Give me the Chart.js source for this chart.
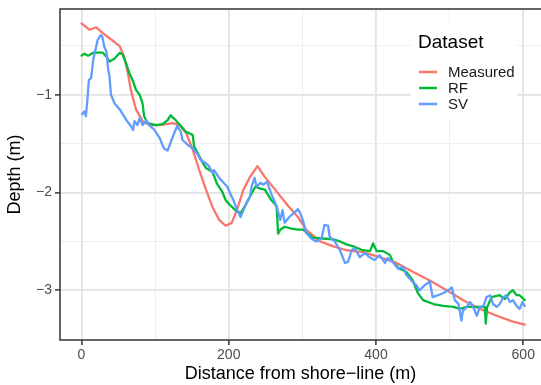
<!DOCTYPE html>
<html>
<head>
<meta charset="utf-8">
<script src="https://cdn.jsdelivr.net/npm/chart.js@4/dist/chart.umd.min.js"></script>
<style>
html,body{margin:0;padding:0;background:#fff;overflow:hidden;}
#wrap{width:541px;height:385px;position:relative;}
</style>
</head>
<body>
<div id="wrap"><canvas id="c" width="541" height="385"></canvas></div>
<script>
// ---- data ----
const seriesNames = ['Measured', 'RF', 'SV'];
const seriesColors = ['#F8766D', '#00BA38', '#619CFF'];

const measuredX = [0,11,20,29,43,52,58,63,67,74,83,92,106,124,133,142,151,160,169,178,187,196,204,211,220,229,239,249,263,281,294,305,324,342,360,382,405,428,450,473,496,518,541,564,586,602];
const measuredY = [-0.27,-0.335,-0.31,-0.37,-0.45,-0.505,-0.61,-0.78,-0.95,-1.15,-1.27,-1.31,-1.31,-1.29,-1.31,-1.39,-1.56,-1.77,-1.97,-2.15,-2.28,-2.34,-2.31,-2.18,-1.97,-1.84,-1.73,-1.84,-1.97,-2.14,-2.25,-2.38,-2.5,-2.55,-2.59,-2.61,-2.66,-2.72,-2.81,-2.90,-3.0,-3.10,-3.19,-3.26,-3.32,-3.35];

const rfX = [0,4,9,16,29,34,38,45,52,56,61,65,70,74,79,83,85,90,101,110,117,121,128,135,142,151,153,160,169,178,184,191,196,202,209,216,222,229,236,243,249,258,265,267,270,276,285,294,301,314,328,342,351,360,369,382,392,396,401,410,419,423,432,441,450,457,464,478,491,505,514,523,537,548,549,551,557,568,575,582,586,591,595,602];
const rfY = [-0.60,-0.58,-0.60,-0.57,-0.57,-0.61,-0.66,-0.63,-0.57,-0.59,-0.69,-0.78,-0.86,-0.95,-1.0,-1.09,-1.22,-1.29,-1.31,-1.30,-1.26,-1.21,-1.26,-1.32,-1.38,-1.41,-1.53,-1.63,-1.75,-1.79,-1.91,-1.99,-2.08,-2.13,-2.18,-2.21,-2.14,-2.04,-1.94,-1.96,-1.97,-2.08,-2.14,-2.42,-2.38,-2.35,-2.37,-2.38,-2.38,-2.46,-2.47,-2.48,-2.50,-2.53,-2.55,-2.59,-2.60,-2.52,-2.60,-2.60,-2.64,-2.71,-2.78,-2.81,-2.90,-3.03,-3.10,-3.14,-3.16,-3.17,-3.19,-3.17,-3.17,-3.17,-3.34,-3.17,-3.07,-3.05,-3.09,-3.02,-3.0,-3.05,-3.05,-3.10];

const svX = [1,4,6,8,10,13,16,19,22,26,28,31,34,36,38,40,45,52,61,67,70,72,76,79,83,88,92,99,106,112,117,121,126,130,135,137,144,151,157,162,169,173,178,180,187,193,198,202,207,211,216,220,225,229,231,235,238,243,247,252,258,265,270,273,276,281,285,290,294,297,301,305,312,319,326,330,335,337,344,351,358,362,367,371,378,385,391,398,405,412,416,423,430,437,441,448,455,459,466,473,477,484,491,498,503,507,512,516,518,523,528,532,537,541,546,550,555,559,564,568,573,577,582,586,591,595,599,602];
const svY = [-1.20,-1.17,-1.22,-1.05,-0.85,-0.83,-0.64,-0.54,-0.44,-0.39,-0.40,-0.51,-0.56,-0.73,-0.81,-1.0,-1.09,-1.15,-1.26,-1.32,-1.36,-1.27,-1.31,-1.24,-1.31,-1.26,-1.31,-1.36,-1.44,-1.55,-1.57,-1.49,-1.39,-1.32,-1.38,-1.46,-1.51,-1.55,-1.60,-1.67,-1.70,-1.73,-1.80,-1.77,-1.85,-1.90,-1.94,-2.01,-2.09,-2.17,-2.25,-2.18,-2.09,-2.04,-1.94,-1.85,-1.94,-1.90,-1.92,-1.89,-2.02,-2.14,-2.28,-2.18,-2.31,-2.26,-2.23,-2.20,-2.17,-2.21,-2.29,-2.41,-2.47,-2.50,-2.47,-2.33,-2.34,-2.45,-2.50,-2.59,-2.72,-2.71,-2.59,-2.57,-2.66,-2.62,-2.66,-2.69,-2.64,-2.72,-2.67,-2.71,-2.78,-2.76,-2.84,-2.90,-2.95,-3.0,-2.95,-2.91,-3.07,-3.05,-3.03,-3.0,-2.97,-3.10,-3.14,-3.31,-3.21,-3.17,-3.12,-3.17,-3.26,-3.17,-3.16,-3.07,-3.05,-3.14,-3.17,-3.14,-3.07,-3.05,-3.12,-3.10,-3.16,-3.19,-3.12,-3.16];

const xTicks = [0,100,200,300,400,500,600];
const xTickLabels = {0:'0',200:'200',400:'400',600:'600'};
const yTicks = [-3,-2.5,-2,-1.5,-1,-0.5];
const yTickLabels = {'-3':'\u22123','-2':'\u22122','-1':'\u22121'};
const xTitle = 'Distance from shore\u2212line (m)';
const yTitle = 'Depth (m)';
const legendTitle = 'Dataset';

// ---- build ----
const zip = (xs, ys) => xs.map((x, i) => ({x: x, y: ys[i]}));
const FONT = '"Liberation Sans", Arial, sans-serif';

const isMajorX = v => Math.abs(v % 200) < 1e-9;
const isMajorY = v => Math.abs(v - Math.round(v)) < 1e-9;

const panelPlugin = {
  id: 'panel',
  afterDraw(chart) {
    const {ctx, chartArea: a} = chart;
    ctx.save();
    ctx.strokeStyle = '#333333';
    ctx.lineWidth = 1.5;
    ctx.strokeRect(a.left, a.top, a.right - a.left + 20, a.bottom - a.top);
    // legend
    ctx.fillStyle = '#ffffff';
    ctx.fillRect(411, 22, 106, 98);
    ctx.fillStyle = '#000000';
    ctx.textBaseline = 'middle';
    ctx.textAlign = 'left';
    ctx.font = '19px ' + FONT;
    ctx.fillText(legendTitle, 418, 43);
    ctx.font = '15px ' + FONT;
    const rows = [72, 88, 104];
    seriesNames.forEach((n, i) => {
      ctx.strokeStyle = seriesColors[i];
      ctx.lineWidth = 2.5;
      ctx.beginPath();
      ctx.moveTo(419, rows[i]);
      ctx.lineTo(437, rows[i]);
      ctx.stroke();
      ctx.fillStyle = '#1a1a1a';
      ctx.fillText(n, 448, rows[i] + 1);
    });
    ctx.restore();
  }
};

const mk = (label, pts, color, order) => ({
  label, data: pts, borderColor: color, backgroundColor: color,
  borderWidth: 2.3, pointRadius: 0, tension: 0, fill: false, order,
  borderJoinStyle: 'round', borderCapStyle: 'round'
});

new Chart(document.getElementById('c'), {
  type: 'line',
  data: {
    datasets: [
      mk(seriesNames[0], zip(measuredX, measuredY), seriesColors[0], 3),
      mk(seriesNames[1], zip(rfX, rfY), seriesColors[1], 2),
      mk(seriesNames[2], zip(svX, svY), seriesColors[2], 1)
    ]
  },
  options: {
    responsive: false,
    animation: false,
    devicePixelRatio: 1,
    layout: {padding: {top: 9, right: 0, left: 0, bottom: 0}},
    plugins: {legend: {display: false}, tooltip: {enabled: false}},
    scales: {
      x: {
        type: 'linear', min: -29.2, max: 624.1,
        afterBuildTicks: s => { s.ticks = xTicks.map(v => ({value: v})); },
        afterFit: s => { s.height = 45; s.paddingLeft = 0; s.paddingRight = 0; },
        ticks: {
          autoSkip: false, maxRotation: 0, padding: 2,
          color: '#4d4d4d', font: {family: FONT, size: 14},
          callback: v => xTickLabels[v] || ''
        },
        grid: {
          color: c => isMajorX(c.tick.value) ? '#e2e2e2' : '#eeeeee',
          lineWidth: c => isMajorX(c.tick.value) ? 1.8 : 1,
          tickColor: c => isMajorX(c.tick.value) ? '#333333' : 'rgba(0,0,0,0)',
          tickLength: 5, tickWidth: 1.5
        },
        border: {display: false},
        title: {display: true, text: xTitle, color: '#000', font: {family: FONT, size: 18}, padding: {top: 0, bottom: 0}}
      },
      y: {
        type: 'linear', min: -3.508, max: -0.123,
        afterBuildTicks: s => { s.ticks = yTicks.map(v => ({value: v})); },
        afterFit: s => { s.width = 60; s.paddingTop = 0; s.paddingBottom = 0; },
        ticks: {
          autoSkip: false, padding: 3,
          color: '#4d4d4d', font: {family: FONT, size: 14},
          callback: v => yTickLabels[String(v)] || ''
        },
        grid: {
          color: c => isMajorY(c.tick.value) ? '#e2e2e2' : '#eeeeee',
          lineWidth: c => isMajorY(c.tick.value) ? 1.8 : 1,
          tickColor: c => isMajorY(c.tick.value) ? '#333333' : 'rgba(0,0,0,0)',
          tickLength: 5, tickWidth: 1.5
        },
        border: {display: false},
        title: {display: true, text: yTitle, color: '#000', font: {family: FONT, size: 18}, padding: {top: 4, bottom: 0}}
      }
    }
  },
  plugins: [panelPlugin]
});
</script>
</body>
</html>
